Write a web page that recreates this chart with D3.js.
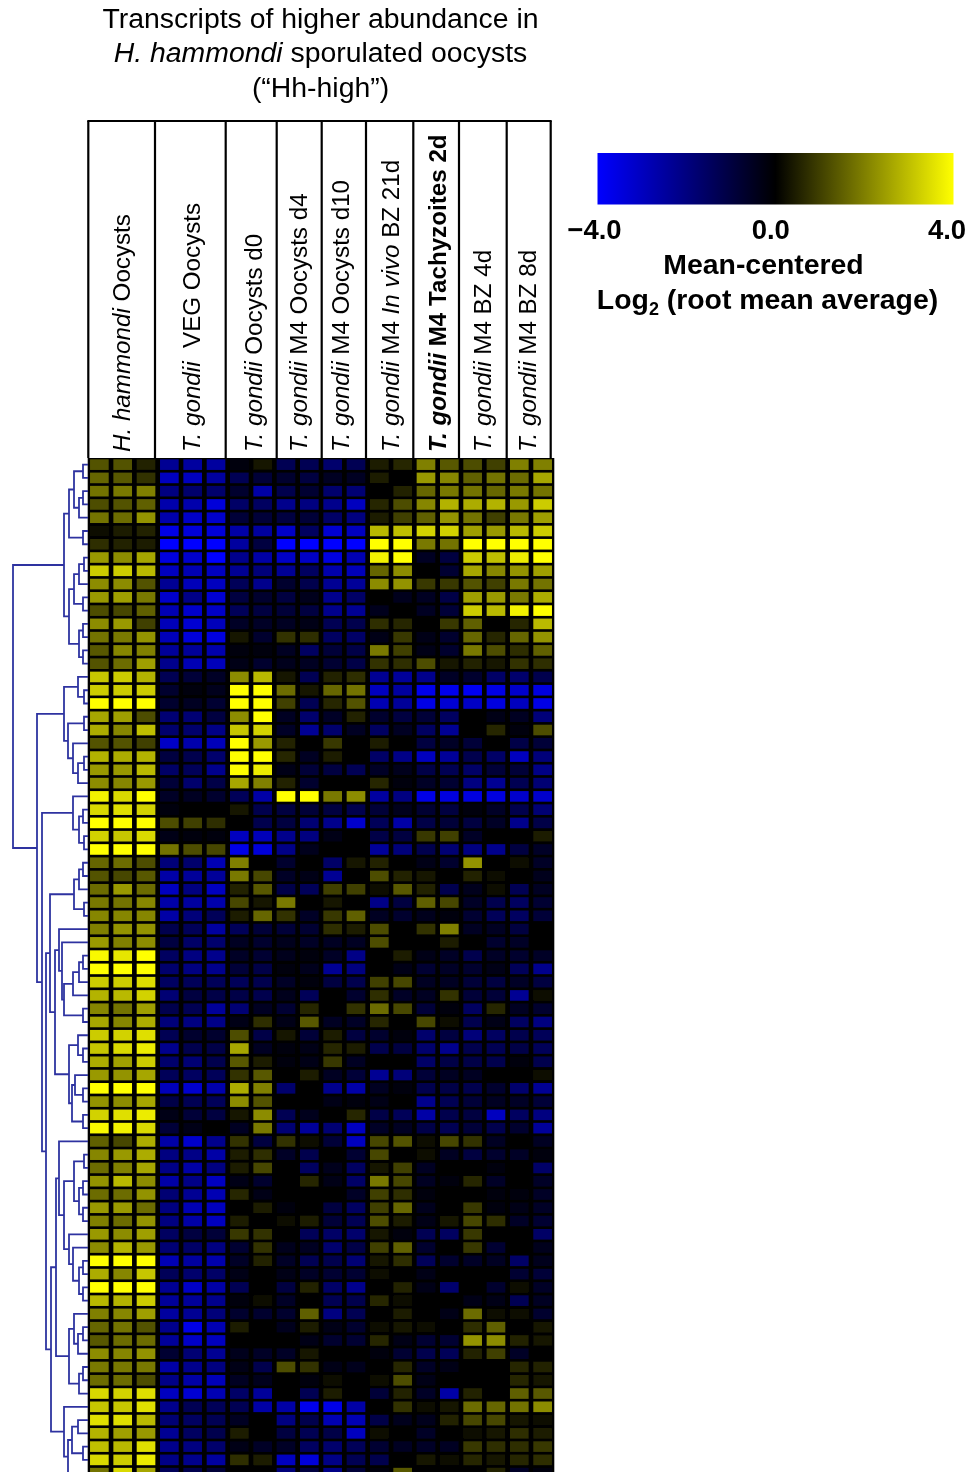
<!DOCTYPE html>
<html>
<head>
<meta charset="utf-8">
<script src="https://cdn.jsdelivr.net/npm/d3@7"></script>
<style>
  html, body { margin: 0; padding: 0; background: #fff; overflow: hidden; }
  text { font-family: "Liberation Sans", Arial, sans-serif; fill: #000; }
</style>
</head>
<body>
<div id="canvas"></div>
<script>
// columns per sample, in the order they are drawn
const samples = [
  { parts: [["H. hammondi", "i"], [" Oocysts", ""]], cols: 3 },
  { parts: [["T. gondii", "i"], ["\u00a0\u00a0VEG Oocysts", ""]], cols: 3 },
  { parts: [["T. gondii", "i"], [" Oocysts d0", ""]], cols: 2 },
  { parts: [["T. gondii", "i"], [" M4 Oocysts d4", ""]], cols: 2 },
  { parts: [["T. gondii", "i"], [" M4 Oocysts d10", ""]], cols: 2 },
  { parts: [["T. gondii", "i"], [" M4 ", ""], ["In vivo", "i"], [" BZ 21d", ""]], cols: 2 },
  { parts: [["T. gondii", "bi"], [" M4 Tachyzoites 2d", "b"]], cols: 2 },
  { parts: [["T. gondii", "i"], [" M4 BZ 4d", ""]], cols: 2 },
  { parts: [["T. gondii", "i"], [" M4 BZ 8d", ""]], cols: 2 },
];

const legendTicks = [-4, 0, 4];

// expression values, one row per transcript
const clusterA = [
  [1.3,1.3,0.5, -2.3,-2.5,-2.5, -0.2,0.3, -1.3,-1.3, -1.7,-1.3, 0.4,0.6, 2.0,1.4, 1.2,1.0, 2.0,2.0],
  [1.6,1.4,0.8, -3,-3,-2.5, -1.3,-0.9, -0.7,-1, -0.5,-0.5, 0.4,0.1, 2.4,2.1, 1.5,1.8, 1.7,2.6],
  [1.8,1.9,2.0, -2,-1.7,-1.7, -0.7,-2.6, -1.2,-0.8, -1.7,-1.8, 0.1,0.5, 1.6,1.9, 1.8,1.6, 1.9,1.8],
  [1.2,1.3,1.5, -2.7,-2.7,-3.4, -1.6,-1.5, -2.2,-2.0, -2.2,-3.0, 0.6,1.2, 2.1,2.8, 2.7,2.8, 2.4,3.2],
  [1.8,1.7,2.3, -2.7,-3.1,-3.2, -0.9,-0.9, -1,-0.9, -1.6,-2, 0.4,1.0, 1.5,2.3, 1.8,1.0, 1.9,2.5],
  [0.2,0.4,0.5, -3.6,-3.4,-3.4, -2.6,-2.5, -3.1,-1.5, -3.3,-3, 2.9,3, 3.3,3.3, 2.5,2.4, 2.9,3.2],
  [0.7,0.5,0.4, -4,-4,-4, -2.5,-1, -4,-4, -4,-4, 4,4, 1.9,1.8, 4,4, 4,4],
  [2.4,2.2,2.6, -3.5,-3.2,-4, -2.2,-2.6, -3.1,-3.1, -3.5,-2.8, 3.8,4, -0.5,-1, 3.2,3, 3.7,4],
  [3.2,3.2,2.9, -3,-2.8,-3, -2.3,-1.9, -2.3,-1.5, -2.7,-2.9, 1.6,2.2, 0,-0.8, 2.6,2.1, 2.3,2.5],
  [2.2,2.2,1.3, -2.3,-2.9,-3, -1.4,-2.2, -0.7,-1.2, -2.3,-2.4, 2.2,2.3, 0.9,0.9, 1.3,1.0, 1.9,1.8],
  [2.4,2.5,1.9, -3.2,-2.1,-3.3, -1,-0.7, -1,-0.4, -2.2,-1.6, 0.1,-0.4, -0.5,-1.1, 2.5,2.4, 1.9,2.7],
  [1.2,1.1,1.5, -2.8,-3.2,-3.1, -1.4,-1, -0.9,-1, -2.2,-2.3, -0.4,0.1, -0.5,-0.9, 3.2,2.9, 3.8,4],
  [2.2,2.4,1.0, -2.9,-3.3,-2.9, -0.6,-0.6, -0.5,-0.3, -1.3,-1.2, 0.7,0.6, 0,0.9, 1.5,-0.1, 0.6,2.9],
  [1.8,1.9,2.3, -2.9,-3.4,-3.5, 0.3,-0.7, 0.8,0.7, -1.5,-1.6, -0.3,0.9, -0.3,-0.7, 1.6,0.6, 1.6,2.3],
  [1.4,2.1,2.0, -2.4,-2.4,-2.7, -0.2,-0.2, -0.5,-1.5, -0.9,-1.1, 1.9,1.0, -0.3,-0.7, 1.9,1.2, 0.7,1.5],
  [1.3,1.7,2.5, -2.2,-2.8,-2.9, -0.3,-0.7, -0.4,-0.5, -0.8,-1.1, 0.8,0.7, 1.2,0.3, 0.5,0.3, 0.8,0.7],
];

const clusterB = [
  [3.1,3.2,2.8, -1.3,-0.9,-0.6, 2.2,2.9, 0.3,-1.3, 0.5,0.7, -2.3,-2.4, -2.2,-0.6, -0.7,-1.6, -1.7,-1.2],
  [3.2,3.2,3.2, -0.7,-0.2,-0.4, 4,4, 1.7,0.3, 1.6,1.8, -3,-2.5, -3.7,-3.7, -3.8,-3.6, -3.2,-3.5],
  [4,4,4, -0.7,-0.5,-0.8, 4,4, 1,-1.3, 0.6,1.3, -2.8,-2.4, -3.6,-3.3, -3.1,-3.5, -3,-3.6],
  [2.6,2.5,1.2, -1.8,-1.8,-1, 2.2,4, -0.5,-1.7, -0.6,0.5, -0.7,-1, -0.9,-1.5, 0,-0.3, -0.5,-1.9],
  [2.7,2.1,3, -1.7,-1.7,-2.1, 3.1,3.3, -0.6,-2.3, -1.7,-0.5, -1.5,-0.5, -1.5,-2.3, 0,0.6, -0.2,1.2],
  [1.3,1.3,1.0, -3.1,-2.7,-2.9, 4,2.4, 0.5,-0.1, 0.9,0.1, 0.4,-0.1, -1,-0.6, -0.9,0, -1.1,-0.9],
  [2.8,2.7,2.8, -1,-1.2,-1.7, 4,4, 0.6,-0.5, 0.4,0, -1.6,-2.1, -3,-2.4, -1.2,-1.6, -3,-1.9],
  [2.4,2.4,2.9, -1.6,-1.4,-2.2, 4,3.7, -0.3,-0.9, -1,-1.3, -0.6,-0.4, -1.1,-1.3, -1.6,-0.9, -0.9,-2.1],
  [2.2,2.1,2.4, -0.9,-1.7,-1.1, 2.6,2, 0.5,-0.7, 0,0, 0.6,-0.2, -0.6,-0.8, -2,-2.3, -1.3,-1.8],
  [3.8,3.4,4, -0.6,-0.5,-0.7, -1.4,-2.6, 4,4, 1.9,2.2, -2.5,-2, -3.6,-3.5, -3.5,-3.5, -3.2,-3.2],
  [3.4,3.5,3.3, -0.2,-0.1,-0.1, 0.3,-1.2, -1,-0.9, -1,-1.2, -0.9,-0.4, -0.8,-1, -0.2,-0.6, -1.2,-1.8],
  [4,4,4, 1.2,1,0.7, 0,-1.2, -1,-1.8, -2.2,-3.2, -1.4,-2.6, -1.1,-0.9, -1,-0.6, -2.2,-1.1],
  [3.3,3.1,3.4, -0.3,-0.2,-0.2, -3,-2.9, -2.2,-2, -0.3,0, -1.1,-1, 0.9,1, -0.6,0.1, 0.1,0.4],
  [4,4,4, 1.8,1.2,1.1, -3.6,-3.4, -2.1,-0.4, 0,0, -2.4,-1.9, -1.2,-1.8, -2,-2.2, -1,-0.6],
];

const clusterC = [
  [1.6,1.7,1.2, -1.9,-1.7,-2.8, 2,0, -0.7,0, -1.6,0.3, 0.5,0.1, -0.3,-0.7, 2.3,0, 0.2,-0.6],
  [1.3,1.1,1.4, -2.6,-2.4,-2.4, 1.9,1.1, -0.6,-0.3, -2.3,0.1, 1.2,0.5, 0.3,0, 0.5,0.2, 0,-0.4],
  [1.7,2.4,1.7, -3,-2,-3, 0.5,1.4, -1.1,-1.4, 1,1, 0.2,1.4, 0.5,-1.2, -0.4,0.2, -1.3,-0.5],
  [1.9,1.8,2.1, -2.6,-2.5,-2.7, 1.1,0.3, 1.9,0, 0.3,0, -2.1,-1, 1.5,1.1, -0.6,-1.2, -1.5,-0.8],
  [2.1,2.1,2.1, -2.6,-1.9,-1.4, 0.4,1.6, 0.8,-0.6, 0.9,1.5, -0.5,-0.7, -0.4,-0.2, -0.8,-1.4, -1.5,-0.9],
  [2,2.3,2.3, -1.2,-1.4,-2.5, -1.4,-0.9, -0.9,-0.8, 0.7,0.4, 1.2,0, 0.8,2, -0.5,-0.5, -1,-0.1],
  [2.4,2,2.2, -1,-1.6,-1.7, -0.5,-0.7, -0.4,-0.6, -0.5,-0.5, 1.2,0, 0,0.4, 0.1,-0.7, -0.6,-0.1],
  [3.9,3.6,4, -1.5,-2,-2.2, -0.6,-0.8, -0.4,-0.2, -0.6,-2.1, 0.1,0.4, -0.3,-0.6, -1.2,-0.6, -0.7,-0.6],
  [4,4,4, -1.7,-2,-2.2, -0.9,-1.1, -0.2,-0.4, -2.3,-2, 0,-0.3, -0.8,-0.6, -0.7,-0.3, -1.4,-2.2],
  [3.2,3.2,3.5, -1.5,-1.4,-1.4, -1.4,-1.2, -0.6,-0.2, -1,-1.2, 1,1.1, -0.5,-0.5, -0.9,-1, -0.6,-1],
  [2.8,2.9,3.3, -1.8,-1,-1.1, -1.1,-1.2, -0.4,-1.4, 0,-0.7, 0.7,-0.6, -0.5,0.8, -0.9,-0.9, -2.3,0.2],
  [2.1,1.8,2.5, -1.2,-1.3,-2.4, -1.8,-0.5, -0.8,0.6, 0,0.8, 1.7,1.1, -0.9,-0.2, -1.5,0.6, -0.5,-0.7],
  [2.6,2.1,2.7, -1.9,-2,-2.1, -0.3,0.7, -0.3,1.4, -0.5,-0.6, 0.6,0, 1.1,0.2, -1.2,-0.3, -1.5,-2],
  [3.2,3.3,3.5, -1.3,-0.7,-0.7, 1.2,-1.1, 0.3,-0.9, 0.4,-1, -0.7,-0.2, -1.7,-1, -1.9,-1.5, -1.2,-1.4],
  [3.1,3.4,3.7, -2.2,-1.2,-1.1, 2.6,-0.5, -0.2,-0.3, 0.6,0.4, -1.2,-1, -1.7,-2.2, -1.2,-1.3, -1.1,-1.4],
  [2.7,2.5,3.2, -1.7,-1.8,-1.2, 1.4,0.4, -0.2,-0.3, 0.9,-0.5, 0,0, -1.6,-1.1, -1.1,-1.2, -0.2,-1.2],
  [2.4,2.3,2.6, -1.4,-1.5,-1.4, 0.8,1.4, 0.1,0.4, -0.5,-0.9, -2.3,-1.9, -0.9,-0.5, -0.5,0, 0,0.2],
  [4,4,4, -2.9,-3.2,-2.7, 2.7,2, -1.7,0, -2.2,-2.6, -0.5,-0.2, -1.2,-1.1, -1.2,-0.7, -1.7,-2.3],
  [2.3,2.2,2.6, -1.1,-1.3,-1.4, 2.2,1.3, 0,0, -0.3,-0.2, -0.3,-0.1, -2.2,-1.3, -0.9,-0.5, -0.6,-0.9],
  [3.3,3.5,3.7, -0.3,-0.9,-1, 0.3,2.2, -1.3,-0.4, 0,0.6, -1.1,-1.4, -2.6,-1.2, -1,-3, -1.5,-2],
  [3.9,3.8,3.4, -0.9,-0.3,0, -0.5,1.9, -1.8,-2.4, -1.8,-3, -0.6,-0.5, -1.1,-1.3, -0.9,-1.2, -0.7,-2.4],
];

const clusterD = [
  [1.5,1.1,2.7, -2.6,-3.2,-2.2, 0.8,-1, 0.8,0.2, -0.9,-3, 1.1,1.3, 0.2,1.1, 0.8,-0.5, -0.1,-0.5],
  [2.1,2.4,2.7, -2,-2.1,-2.6, 0.4,0.7, -0.6,-1.2, -0.1,-0.8, 1.1,0, 0.2,-0.5, -1,-0.7, -0.6,-0.2],
  [1.7,2,2.6, -2.1,-2.6,-2, 0.4,1.1, 0,-1.5, -0.4,-1.5, 0.3,1, -0.5,0.1, 0.1,-0.2, 0,-1.6],
  [2.3,2.9,2.2, -2.6,-2.1,-3, -0.3,-0.7, 0,0.6, -0.3,-1.6, 1.9,1.1, -0.5,-0.2, 0.6,-0.6, 0,-0.6],
  [1.7,1.7,2.3, -1.8,-2.3,-2.8, 0.6,-0.3, -0.1,0, 0.1,-0.6, 1,0.7, -0.2,0, 0,-0.2, -0.2,-0.6],
  [2.4,2.4,1.7, -2,-2.8,-3, 0,0.4, -0.2,-0.1, -1,-1.5, 1,1.6, -0.4,0.1, 0.9,-0.2, -0.3,-0.6],
  [2,1.7,2.3, -2,-2.6,-3, 0.4,0, 0.2,0.4, -0.9,-1.3, 1.2,0.4, -0.3,0.3, 1.1,0.7, -0.6,-0.8],
  [2.4,2.2,2.5, -1.5,-1,-0.9, 0.9,0.8, 0,-1.4, -1.6,-1.7, 0.3,-0.2, -1.3,-1.5, 0.9,0.1, 0.1,-1.6],
  [2.2,2.8,2.4, -1.8,-1.6,-2, -0.8,0.8, -0.4,-0.5, -1.7,-1.1, 1,1.5, -0.7,0, 0.9,-0.8, 0,-0.4],
  [4,4,4, -2.8,-2.5,-2.7, -0.6,0.5, -0.6,-1.3, -1.2,-1.8, 0.3,0.7, -1.4,-0.7, -0.6,-0.5, -1.6,-0.4],
  [2.7,2.1,3.1, -1.4,-1.7,-1.6, -0.3,0, -0.3,-0.6, -0.8,-0.8, 0.2,0, -0.3,0, 0,0, -0.8,-0.9],
  [4,4,4, -2.3,-3.1,-2.6, -1.3,-0.1, -1,0.5, -1.6,-2.2, 0.1,0.5, -0.3,-1.7, 0,-0.7, 0.2,-0.6],
  [2.9,2.8,3.2, -2.4,-2.4,-2.2, -0.2,0.2, -0.6,0, -1.3,-1.2, 0.6,0.2, 0.1,0, -0.3,-0.3, -1.3,-0.5],
  [2,2.1,2.5, -2.5,-2.3,-1.9, -0.7,-0.7, -0.7,1.5, -2,-1.3, 0,0.4, 0.1,-0.3, 1.7,0.2, 0.2,-0.7],
  [1.6,1.8,1.3, -2.2,-3.6,-2.8, 0.4,0, -0.4,0.4, -0.3,-0.7, 0.2,0.3, 0.2,0, 0.7,1.5, 0.1,0.3],
  [1.4,1.7,1.7, -2.4,-3.1,-3, -0.1,-0.1, -0.1,-0.3, -0.7,-0.8, 0.6,-0.3, -0.8,-0.8, 2.3,2.2, 0.5,0.3],
  [2.2,2.1,2.3, -0.8,-1.8,-2.3, -0.4,-0.6, -0.6,0.3, 0,0, -0.2,-0.8, -1.2,-1.4, 0.5,1, -0.6,0],
  [1.9,1.9,1.9, -2.6,-2.2,-2, -0.3,-1.2, 1.2,0.8, -0.3,-0.4, 0.1,0.6, -0.6,-0.3, 0,0, 0.6,0.5],
  [1.7,1.7,1.2, -2.1,-2.6,-2.9, -0.5,-0.4, 0,-0.2, 0.2,0, 0.2,1.2, -0.3,0, 0,0, 0.6,0.3],
  [3.4,3.3,3.5, -3,-3.3,-2.8, -1.6,-2.4, 0,-1.3, 0.4,0.1, -0.9,0.5, -0.6,-2.6, 0.5,0, 1.5,1.4],
  [3.1,3.1,3.5, -2.2,-1.3,-1.4, -1.3,-2.6, -2.6,-3.7, -3.6,-2.6, 0,0.8, 0.2,0.3, 1.7,1.6, 1.8,2.2],
  [3.5,3.5,2.9, -1.8,-1.5,-1.3, -0.5,0, -2,-1.2, -2.8,-2.8, -1.1,-0.4, -0.4,0.5, 1.1,1.1, 0.3,0.2],
  [2.8,2.5,2.4, -2.3,-1.5,-1.2, 0.4,0.1, -1,-1.3, -1.1,-3, 0.2,-0.1, -0.6,0, 0.2,0.3, 0.7,0.4],
  [3,2.9,3.5, -2.2,-2,-1.7, -0.3,-0.6, -0.6,-1.5, -1.7,-1.4, -0.8,-0.5, -0.6,-0.5, 0.9,0.7, 0.7,0.9],
  [3.4,3.2,3.7, -2.1,-2.2,-2.5, 0.7,0.4, -3,-3.4, -2.1,-1.3, -1.2,-0.1, 0.3,0.2, 0.6,0.3, 0.6,0.7],
  [1.8,3.4,2.6, -1.4,-1.2,-0.9, -0.1,-0.1, -1.9,-1, -2.1,-0.9, -0.2,1.4, 0,0, 0.1,0.5, -0.6,-0.2],
];

// dendrogram, [merge distance, child, child], a number is a row index
const treeTop = [24,
  [19, [14, [5,0,1], [9, [5,2,3], 4]], [5,5,6]],
  [19,
    [14, [9, [4,7,8], 9], [5,10,11]],
    [9, [5,12,13], [5,14,15]]
  ]
];
const treeB1 = [24,
  [10, 16, [4,17,18]],
  [20, [4,19,20], [15, 21, [10, [4,22,23], 24]]]
];
const treeB2 = [15, 25, [9, [5,26,27], [4,28,29]]];
const treeC1 = [38,
  [14, [9, [5,30,31], 32], [4,33,34]],
  [33,
    [29, 35, [26, 36, [24, [15, [9, [5,37,38], 39], 40], [5,41,42]]]],
    [19, [10, 43, [5,44,45]], [16, [13, 46, [5,47,48]], [5,49,50]]]
  ]
];
const treeC21 = [32,
  [29, 51, [24,
    [14, [4,52,53], [9, [5,54,55], [5,56,57]]],
    [19, 58, [15, 59, [9, [5,60,61], [5,62,63]]]]
  ]],
  [19,
    [14, 64, [10, [5,65,66], 67]],
    [9, [5,68,69], 70]
  ]
];
const treeC22 = [24, 71, [20, [16, [10,72,73], [5,74,75]], 76]];
const treeRoot = [75,
  treeTop,
  [51,
    treeB1,
    [46, treeB2, [42, treeC1, [37, treeC21, treeC22]]]
  ]
];

const titleLines = [
  [["Transcripts of higher abundance in", ""]],
  [["H. hammondi", "i"], [" sporulated oocysts", ""]],
  [["(\u201cHh-high\u201d)", ""]],
];

const rows = [...clusterA, ...clusterB, ...clusterC, ...clusterD];

const width = 971;
const height = 1472;
const heat = { left: 87.7, right: 554.3, top: 458, rowStep: 13.27 };
const header = { top: 121, bottom: 458, textY: 452 };
// the column boxes above the heatmap are not quite aligned to it in the figure
const headerEdges = [88.3, 155, 225.7, 276.7, 321.7, 366, 413.3, 459, 506.7, 550.7];
const labelBaselines = [130, 200, 261.7, 306.7, 349.3, 399.3, 445.7, 490.7, 535.7];

const svg = d3.select("#canvas").append("svg")
  .attr("width", width)
  .attr("height", height)
  .style("display", "block");

const defs = svg.append("defs");
defs.append("filter").attr("id", "soft")
  .attr("x", "-5%").attr("y", "-5%").attr("width", "110%").attr("height", "110%")
  .append("feGaussianBlur").attr("stdDeviation", 0.7);
defs.append("filter").attr("id", "softer")
  .attr("x", "-5%").attr("y", "-5%").attr("width", "110%").attr("height", "110%")
  .append("feGaussianBlur").attr("stdDeviation", 0.4);

const color = d3.scaleLinear()
  .domain([-4, 0, 4])
  .range(["#0000ff", "#000000", "#ffff00"]);

const x = d3.scaleBand()
  .domain(d3.range(rows[0].length))
  .range([heat.left, heat.right])
  .paddingInner(0.2)
  .paddingOuter(0.1);

const y = d3.scaleBand()
  .domain(d3.range(rows.length))
  .range([heat.top, heat.top + rows.length * heat.rowStep])
  .paddingInner(0.2)
  .paddingOuter(0.1);

// heatmap
const gHeat = svg.append("g");
gHeat.append("rect")
  .attr("x", heat.left)
  .attr("y", heat.top)
  .attr("width", heat.right - heat.left)
  .attr("height", height - heat.top)
  .attr("fill", "#000");

const gCells = gHeat.append("g").attr("filter", "url(#soft)");
rows.forEach((row, i) => {
  gCells.selectAll(null)
    .data(row)
    .enter()
    .append("rect")
    .attr("x", (d, j) => x(j))
    .attr("y", y(i))
    .attr("width", x.bandwidth())
    .attr("height", y.bandwidth())
    .attr("fill", (d) => color(d));
});

// dendrogram
const dist = d3.scaleLinear().domain([75, 0]).range([13, 88]);
const root = d3.hierarchy(treeRoot, (d) => (Array.isArray(d) ? d.slice(1) : null));
root.eachAfter((n) => {
  if (n.children) {
    n.px = dist(n.data[0]);
    n.py = d3.mean(n.children, (c) => c.py);
  } else {
    n.px = dist(0);
    n.py = y(n.data) + y.bandwidth() / 2;
  }
});

svg.append("g")
  .attr("filter", "url(#softer)")
  .selectAll("path")
  .data(root.descendants().filter((n) => n.children))
  .enter()
  .append("path")
  .attr("fill", "none")
  .attr("stroke", "#2f33a0")
  .attr("stroke-width", 1.8)
  .attr("d", (n) => {
    const p = d3.path();
    const [a, b] = n.children;
    p.moveTo(a.px, a.py);
    p.lineTo(n.px, a.py);
    p.lineTo(n.px, b.py);
    p.lineTo(b.px, b.py);
    return p.toString();
  });

// header boxes
const gHeader = svg.append("g").attr("filter", "url(#softer)");
gHeader.selectAll("line")
  .data(headerEdges)
  .enter()
  .append("line")
  .attr("x1", (d) => d)
  .attr("x2", (d) => d)
  .attr("y1", header.top)
  .attr("y2", header.bottom)
  .attr("stroke", "#000")
  .attr("stroke-width", 2.2);
gHeader.append("line")
  .attr("x1", headerEdges[0] - 1)
  .attr("x2", headerEdges[headerEdges.length - 1] + 1)
  .attr("y1", header.top)
  .attr("y2", header.top)
  .attr("stroke", "#000")
  .attr("stroke-width", 2.2);

function addParts(sel, parts) {
  parts.forEach(([txt, style]) => {
    sel.append("tspan")
      .attr("font-style", style.includes("i") ? "italic" : "normal")
      .attr("font-weight", style.includes("b") ? "bold" : "normal")
      .text(txt);
  });
}

samples.forEach((s, i) => {
  const t = gHeader.append("text")
    .attr("transform", `translate(${labelBaselines[i]},${header.textY}) rotate(-90)`)
    .attr("font-size", 24.2);
  addParts(t, s.parts);
});

// title
const gTitle = svg.append("g").attr("filter", "url(#softer)");
titleLines.forEach((line, i) => {
  const t = gTitle.append("text")
    .attr("x", 320.5)
    .attr("y", 28 + i * 34.4)
    .attr("text-anchor", "middle")
    .attr("font-size", 28.4);
  addParts(t, line);
});

// legend
const legend = { left: 597.5, right: 953.5, top: 153, bottom: 204.5 };
const grad = defs.append("linearGradient").attr("id", "legendGrad");
grad.selectAll("stop")
  .data(legendTicks)
  .enter()
  .append("stop")
  .attr("offset", (d) => `${((d + 4) / 8) * 100}%`)
  .attr("stop-color", (d) => color(d));

svg.append("rect")
  .attr("x", legend.left)
  .attr("y", legend.top)
  .attr("width", legend.right - legend.left)
  .attr("height", legend.bottom - legend.top)
  .attr("fill", "url(#legendGrad)");

const gLegend = svg.append("g").attr("filter", "url(#softer)");
const legendX = d3.scaleLinear().domain([-4, 4]).range([594, 946.5]);
const axis = gLegend.append("g")
  .attr("transform", `translate(0,${legend.bottom})`)
  .call(d3.axisBottom(legendX).tickValues(legendTicks).tickFormat(d3.format(".1f")).tickSize(0).tickPadding(14));
axis.select(".domain").remove();
axis.selectAll("text")
  .attr("font-family", "Liberation Sans")
  .attr("font-size", 27.5)
  .attr("font-weight", "bold")
  .attr("dy", "0.75em");

gLegend.append("text")
  .attr("x", 763.5)
  .attr("y", 274)
  .attr("text-anchor", "middle")
  .attr("font-size", 28.4)
  .attr("font-weight", "bold")
  .text("Mean-centered");

const logLine = gLegend.append("text")
  .attr("x", 767.5)
  .attr("y", 309)
  .attr("text-anchor", "middle")
  .attr("font-size", 28.4)
  .attr("font-weight", "bold");
logLine.append("tspan").text("Log");
logLine.append("tspan").attr("font-size", 18).attr("dy", 6).text("2");
logLine.append("tspan").attr("dy", -6).text(" (root mean average)");
</script>
</body>
</html>
